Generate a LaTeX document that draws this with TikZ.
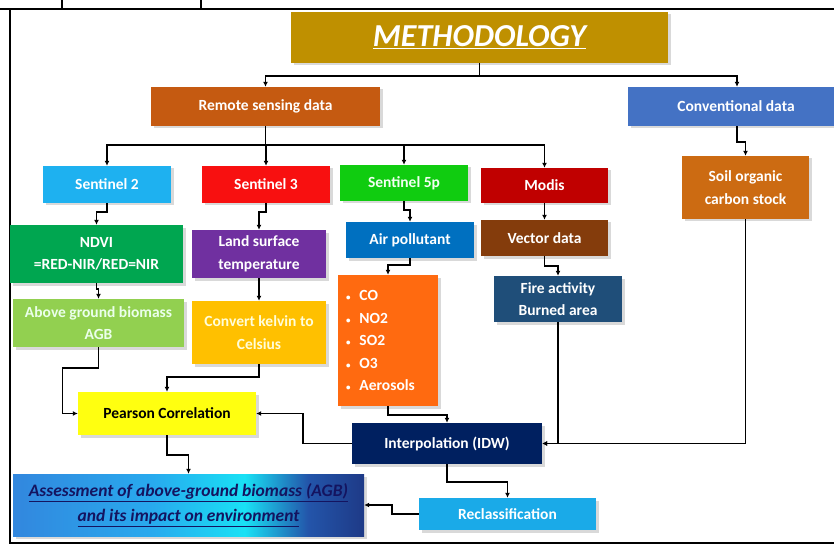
\documentclass[tikz,border=0pt]{standalone}
\usepackage{fontspec}
\setmainfont{Carlito}
\usetikzlibrary{arrows.meta,shadows}

\definecolor{methodgold}{HTML}{BF9000}
\definecolor{remotebrown}{HTML}{C55A11}
\definecolor{convblue}{HTML}{4472C4}
\definecolor{senttwo}{HTML}{1EB1F0}
\definecolor{sentthree}{HTML}{F81010}
\definecolor{sentfive}{HTML}{10CC10}
\definecolor{modisred}{HTML}{C00000}
\definecolor{soilorange}{HTML}{CC6B12}
\definecolor{ndvigreen}{HTML}{00A650}
\definecolor{lstpurple}{HTML}{7030A0}
\definecolor{airblue}{HTML}{0070C0}
\definecolor{vectorbrown}{HTML}{843C0C}
\definecolor{coorange}{HTML}{FF6A10}
\definecolor{firenavy}{HTML}{1F4E79}
\definecolor{agbgreen}{HTML}{92D050}
\definecolor{kelvinamber}{HTML}{FFC000}
\definecolor{pearsonyellow}{HTML}{FFFF10}
\definecolor{idwnavy}{HTML}{002060}
\definecolor{reclassblue}{HTML}{1AAAE8}
\definecolor{assesstext}{HTML}{141460}
\definecolor{agbleft}{RGB}{50,135,222}
\definecolor{agbmid}{RGB}{40,170,238}
\definecolor{agbcyan}{RGB}{25,225,245}
\definecolor{agbdark}{RGB}{35,85,170}
\definecolor{agbnavy}{RGB}{30,58,135}

% blue - cyan - navy band of the last box
\pgfdeclarehorizontalshading{assessshade}{100bp}{color(0bp)=(agbleft); color(25bp)=(agbleft); color(45bp)=(agbmid); color(58bp)=(agbcyan); color(67bp)=(agbdark); color(75bp)=(agbnavy); color(100bp)=(agbnavy)}

\begin{document}
\begin{tikzpicture}[
  x=1pt, y=-1pt,
  box/.style={fill=#1, text=white, align=center, inner sep=2pt, font=\fontsize{15.5}{22.5}\selectfont\bfseries, drop shadow={shadow xshift=2.5pt, shadow yshift=-2.5pt, opacity=0.3}},
  arrow/.style={-{Latex[length=5pt,width=5pt]}, line width=1.6pt},
  frameline/.style={line width=1.6pt}
]
\useasboundingbox (0,0) rectangle (834,545);

% page frame around the figure
\draw[line width=2.6pt] (0,9) -- (834,9);
\draw[frameline] (62,0) -- (62,9);
\draw[frameline] (201,0) -- (201,9);
\draw[frameline] (10,9) -- (10,543) -- (834,543);

\node[box=methodgold, minimum width=377pt, minimum height=51pt, font=\fontsize{32}{36}\selectfont\bfseries\itshape] (method) at (479.5,37.5) {\underline{METHODOLOGY}};

\node[box=remotebrown, minimum width=229pt, minimum height=39pt] (remote) at (265.5,106.5) {Remote sensing data};
\node[box=convblue, minimum width=206pt, minimum height=39pt] (conv) at (731,106.5) {\hspace{10pt}Conventional data};

\node[box=senttwo, minimum width=128pt, minimum height=37pt] (s2) at (107,184.5) {Sentinel 2};
\node[box=sentthree, minimum width=128pt, minimum height=37pt] (s3) at (266,184.5) {Sentinel 3};
\node[box=sentfive, minimum width=128pt, minimum height=36pt, text=green!5] (s5p) at (404,183) {Sentinel 5p};
\node[box=modisred, minimum width=127pt, minimum height=35pt] (modis) at (544.5,185.5) {Modis};
\node[box=soilorange, minimum width=127pt, minimum height=63pt] (soil) at (745.5,187.5) {Soil organic\\carbon stock};

\node[box=ndvigreen, minimum width=173pt, minimum height=58pt] (ndvi) at (96.5,254) {NDVI\\=RED-NIR/RED=NIR};
\node[box=lstpurple, minimum width=134pt, minimum height=48pt] (lst) at (259,254) {Land surface\\temperature};
\node[box=airblue, minimum width=128pt, minimum height=36pt] (air) at (410,240) {Air pollutant};
\node[box=vectorbrown, minimum width=127pt, minimum height=36pt] (vector) at (544.5,238) {Vector data};

\node[box=coorange, minimum width=100pt, minimum height=131pt, align=left, text width=84pt] (gases) at (388,340.5) {%
  {\fontsize{9}{9}\selectfont\textbullet}\hspace{9pt}CO\\
  {\fontsize{9}{9}\selectfont\textbullet}\hspace{9pt}NO2\\
  {\fontsize{9}{9}\selectfont\textbullet}\hspace{9pt}SO2\\
  {\fontsize{9}{9}\selectfont\textbullet}\hspace{9pt}O3\\
  {\fontsize{9}{9}\selectfont\textbullet}\hspace{9pt}Aerosols};
\node[box=firenavy, minimum width=128pt, minimum height=46pt] (fire) at (558,299) {Fire activity\\Burned area};
\node[box=agbgreen, minimum width=171pt, minimum height=48pt, text=green!8!white] (agb) at (98.5,323) {Above ground biomass\\AGB};
\node[box=kelvinamber, minimum width=134pt, minimum height=63pt, text=yellow!15!white] (kelvin) at (259,332.5) {Convert kelvin to\\Celsius};

\node[box=pearsonyellow, minimum width=178pt, minimum height=43pt, text=black] (pearson) at (167,413.5) {Pearson Correlation};
\node[box=idwnavy, minimum width=190pt, minimum height=41pt] (idw) at (447,443.5) {Interpolation (IDW)};
\node[box=reclassblue, minimum width=177pt, minimum height=32pt] (reclass) at (507.5,514) {Reclassification};
\node[box=white, shading=assessshade, minimum width=351pt, minimum height=62pt, text=assesstext, font=\fontsize{17.5}{25}\selectfont\bfseries\itshape] (assess) at (188.5,505) {\underline{Assessment of above-ground biomass (AGB)}\\\underline{and its impact on environment}};

% connectors
\draw[arrow] (method.south) -- ++(0,13) -| (remote.north);
\draw[arrow] (method.south) -- ++(0,13) -| ([xshift=6pt]conv.north);
\draw[arrow] (remote.south) -- ++(0,19) -| (s2.north);
\draw[arrow] (remote.south) -- ++(0,19) -| (s3.north);
\draw[arrow] (remote.south) -- ++(0,19) -| (s5p.north);
\draw[arrow] (remote.south) -- ++(0,19) -| (modis.north);
\draw[arrow] ([xshift=6pt]conv.south) -- ++(0,16) -| (soil.north);
\draw[arrow] (s2.south) -- ++(0,9) -| (ndvi.north);
\draw[arrow] (s3.south) -- ++(0,9) -| (lst.north);
\draw[arrow] (s5p.south) -- ++(0,9) -| (air.north);
\draw[arrow] (modis.south) -- (vector.north);
\draw[arrow] (ndvi.south) -- ++(0,6) -| (agb.north);
\draw[arrow] (lst.south) -- (kelvin.north);
\draw[arrow] (air.south) -- ++(0,7) -| (gases.north);
\draw[arrow] (vector.south) -- ++(0,10) -| (fire.north);
\draw[arrow] (agb.south) -- ++(0,21) -- ++(-36,0) |- (pearson.west);
\draw[arrow] (kelvin.south) -- ++(0,13) -| (pearson.north);
\draw[arrow] (gases.south) -- ++(0,9) -| (idw.north);
\draw[arrow] (fire.south) |- (idw.east);
\draw[arrow] (soil.south) |- (idw.east);
\draw[arrow] (idw.west) -- ++(-49,0) |- (pearson.east);
\draw[arrow] (pearson.south) -- ++(0,20) -| (assess.north);
\draw[arrow] (idw.south) -- ++(0,18) -| (reclass.north);
\draw[arrow] (reclass.west) -- ++(-27,0) |- (assess.east);
\end{tikzpicture}
\end{document}
